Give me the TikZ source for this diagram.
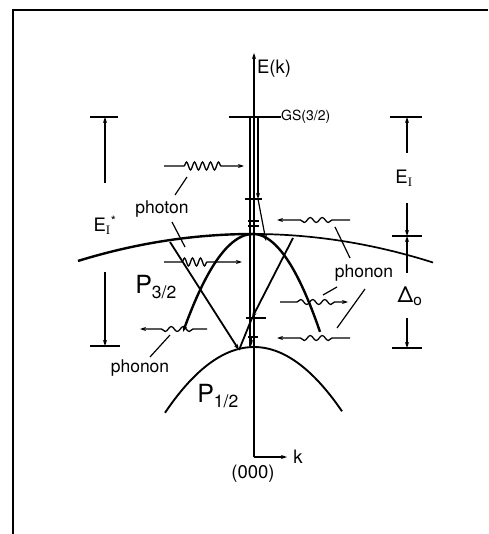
\documentclass[tikz,border=0pt]{standalone}
\usepackage{fontspec}
\setmainfont{TeX Gyre Heros}
\newfontfamily\serifI{Liberation Serif}
\usetikzlibrary{arrows.meta,decorations.pathmorphing}

\begin{document}
\begin{tikzpicture}[x=1pt,y=-1pt,
    thinl/.style={line width=1.2pt},
    axisl/.style={line width=1.4pt},
    band/.style={line width=2.4pt},
    trans/.style={line width=1.8pt},
    tip/.style={-{Stealth[length=6pt,width=4pt]}},
    photon/.style 2 args={line width=1.3pt,tip,decorate,
      decoration={snake,amplitude=4pt,segment length=8pt,pre length=#1,post length=#2}},
    phonon/.style 2 args={line width=1.3pt,tip,decorate,
      decoration={snake,amplitude=2.5pt,segment length=12pt,pre length=#1,post length=#2}},
    lab/.style={inner sep=0pt,font=\fontsize{17.5}{20}\selectfont},
    big/.style={inner sep=0pt,font=\fontsize{25}{28}\selectfont},
    tiny/.style={inner sep=0pt,font=\fontsize{14}{16}\selectfont}]
  \useasboundingbox (0,0) rectangle (488,534);
  \draw[line width=1.8pt] (13,534) -- (13,10) -- (488,10);

  % axes
  \coordinate (O) at (254,457);
  \coordinate (etip) at (254,53);
  \coordinate (ktip) at (287,457);
  \draw[axisl,tip] (O) -- (etip);
  \draw[axisl,tip] (O) -- (ktip);
  \node[lab,font=\fontsize{18.5}{20}\selectfont] (ek) at (274,69) {E(k)};
  \node[lab,font=\fontsize{18.5}{20}\selectfont] (k) at (298,457) {k};
  \node[lab,font=\fontsize{18.5}{20}\selectfont] (ooo) at (253,474) {(000)};

  % ground state and levels
  \coordinate (gsl) at (229,117);
  \coordinate (gsr) at (281,117);
  \draw[thinl] (gsl) -- (gsr);
  \node[tiny,anchor=west] (gs) at (gsr) {GS(3/2)};
  \draw[thinl] (250,117) -- (250,346);
  \coordinate (s1) at (258,117);
  \coordinate (s2) at (258,199);
  \coordinate (s3) at (266,241);
  \draw[thinl,tip] (s1) -- (s2);
  \draw[thinl,tip] (s2) -- (s3);
  \draw[thinl] (245,199) -- (262,199);
  \draw[thinl] (248,221) -- (259,221);
  \draw[thinl] (248,226) -- (259,226);
  \draw[thinl] (246,318) -- (266,318);
  \draw[thinl] (248,337) -- (258,337);
  \draw[thinl,tip] (251,336) -- (251,346);

  % bands
  \draw[band] plot[domain=-175:0,smooth,samples=30] ({253+\x},{234+0.088*(\x/10)*(\x/10)});
  \draw[line width=1.7pt] plot[domain=0:180,smooth,samples=30] ({253+\x},{234+0.088*(\x/10)*(\x/10)});
  \draw[band,tip] plot[domain=0:-70,smooth,samples=25] ({253+\x},{234+2.00*(\x/10)*(\x/10)});
  \draw[band] plot[domain=0:67,smooth,samples=25] ({253+\x},{234+2.18*(\x/10)*(\x/10)});
  \draw[line width=1.9pt] plot[domain=-89:88,smooth,samples=30] ({254+\x},{347+0.83*(\x/10)*(\x/10)});
  \node[big] (p32) at (156,287) {P\textsubscript{3/2}};
  \node[big] (p12) at (218,396) {P\textsubscript{1/2}};

  % transitions
  \coordinate (a1) at (170,242);
  \coordinate (b1) at (239,350);
  \coordinate (a2) at (293,238);
  \coordinate (m2) at (252,318);
  \draw[trans,tip] (a1) -- (b1);
  \draw[trans,tip] (a2) -- (m2);
  \draw[trans] (m2) -- (b1);

  % photons
  \coordinate (ph1a) at (164,166);
  \coordinate (ph1b) at (244,166);
  \coordinate (ph2a) at (164,262);
  \coordinate (ph2b) at (242,262);
  \draw[photon={20pt}{21pt}] (ph1a) -- (ph1b);
  \draw[photon={18pt}{32pt}] (ph2a) -- (ph2b);
  \node[lab] (pht) at (162,209) {photon};
  \draw[thinl] (175,195) -- (187,177);
  \draw[thinl] (172,222) -- (185,247);

  % phonons
  \coordinate (pn1a) at (207,329);
  \coordinate (pn1b) at (140,329);
  \coordinate (pn2a) at (350,220);
  \coordinate (pn2b) at (277,220);
  \coordinate (pn3a) at (280,302);
  \coordinate (pn3b) at (348,302);
  \coordinate (pn4a) at (350,338);
  \coordinate (pn4b) at (277,338);
  \draw[phonon={14pt}{20pt}] (pn1a) -- (pn1b);
  \draw[phonon={18pt}{21pt}] (pn2a) -- (pn2b);
  \draw[phonon={17pt}{11pt}] (pn3a) -- (pn3b);
  \draw[phonon={18pt}{18pt}] (pn4a) -- (pn4b);
  \node[lab] (pnl) at (140,368) {phonon};
  \node[lab] (pnr) at (364,273) {phonon};
  \draw[thinl] (150,357) -- (170,335);
  \draw[thinl] (335,227) -- (350,258);
  \draw[thinl] (323,295) -- (337,287);
  \draw[thinl] (337,328) -- (365,289);

  % energy spans
  \draw[thinl] (90,117) -- (118,117);
  \draw[thinl,tip] (105,183) -- (105,117);
  \draw[thinl,tip] (105,272) -- (105,346);
  \draw[thinl] (90,346) -- (120,346);
  \node[lab,font=\fontsize{18.5}{20}\selectfont] (eis) at (105,225)
    {E\textsubscript{\serifI I}\textsuperscript{*}};
  \draw[thinl] (390,117) -- (422,117);
  \draw[thinl,tip] (407,153) -- (407,117);
  \node[lab,font=\fontsize{18.5}{20}\selectfont] (ei) at (404,178) {E\textsubscript{\serifI I}};
  \draw[thinl,tip] (407,203) -- (407,236);
  \draw[thinl] (392,236) -- (422,236);
  \draw[thinl,tip] (407,273) -- (407,236);
  \node[lab,font=\fontsize{22}{24}\selectfont] (dlt) at (410,296) {Δ\textsubscript{o}};
  \draw[thinl,tip] (407,318) -- (407,348);
  \draw[thinl] (392,348) -- (422,348);
\end{tikzpicture}
\end{document}
